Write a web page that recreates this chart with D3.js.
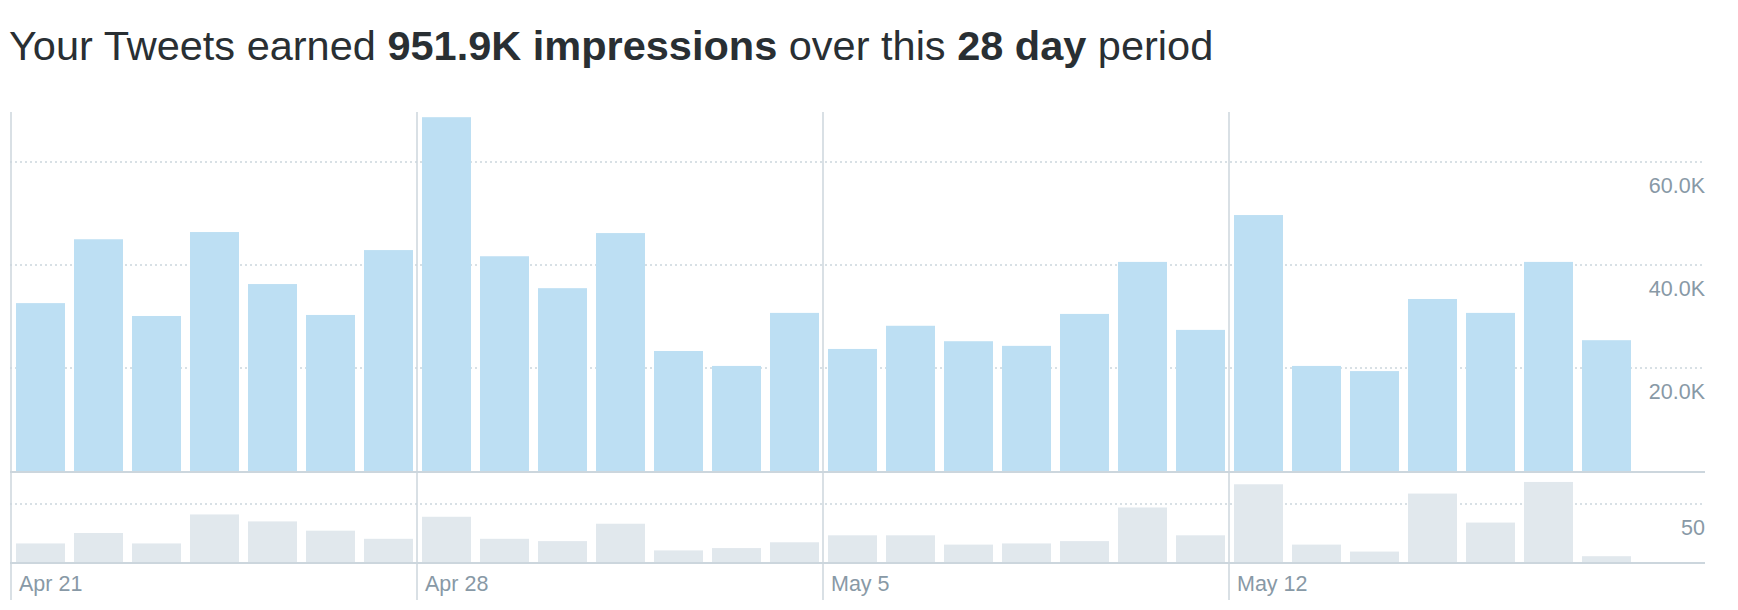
<!DOCTYPE html>
<html><head><meta charset="utf-8">
<script src="https://cdn.jsdelivr.net/npm/d3@7/dist/d3.min.js"></script>
<style>body{margin:0;background:#fff}svg{display:block}</style>
</head><body><svg id="c" width="1738" height="610"></svg>
<script>
const days = ["Apr 21","Apr 22","Apr 23","Apr 24","Apr 25","Apr 26","Apr 27","Apr 28","Apr 29","Apr 30","May 1","May 2","May 3","May 4","May 5","May 6","May 7","May 8","May 9","May 10","May 11","May 12","May 13","May 14","May 15","May 16","May 17","May 18"];
const impressions = [32.6,45.0,30.1,46.4,36.3,30.3,42.9,68.7,41.7,35.5,46.2,23.3,20.4,30.7,23.7,28.2,25.2,24.3,30.5,40.6,27.4,49.7,20.4,19.4,33.4,30.7,40.6,25.4].map(v=>v*1000);
const engagements = [16,25,16,41,35,27,20,39,20,18,33,10,12,17,23,23,15,16,18,47,23,67,15,9,59,34,69,5];
const impTicks = [20000,40000,60000];
const engTicks = [50];
const weekLabels = ["Apr 21","Apr 28","May 5","May 12"];

const svg = d3.select("#c");
const font = "'Liberation Sans', Arial, Helvetica, sans-serif";
const lineC = "#ccd6dd", textC = "#8899a6";

// title
const t = svg.append("text").attr("x",9).attr("y",60).attr("font-family",font).attr("font-size",41.5).attr("fill","#292f33");
[["Your Tweets earned ",400],["951.9K impressions",700],[" over this ",400],["28 day",700],[" period",400]]
  .forEach(([s,w])=>t.append("tspan").attr("font-weight",w).text(s));

const x = d3.scaleBand().domain(days).range([11.5,1635.5]).paddingInner(9/58).paddingOuter(4.5/58);
const yTop = d3.scaleLinear().domain([0,60000]).range([471,162]);
const yBot = d3.scaleLinear().domain([0,50]).range([562,504]);
const gridX0 = 10, gridX1 = 1705;

function grid(scale, ticks, fmt, dy){
  const g = svg.append("g");
  g.selectAll("line").data(ticks).join("line")
    .attr("x1",gridX0).attr("x2",gridX1).attr("y1",d=>scale(d)).attr("y2",d=>scale(d))
    .attr("stroke",lineC).attr("stroke-width",1.5).attr("stroke-dasharray","2,3");
  g.selectAll("text").data(ticks).join("text")
    .attr("x",gridX1).attr("y",d=>scale(d)+dy).attr("text-anchor","end")
    .attr("font-family",font).attr("font-size",21.5).attr("fill",textC).text(fmt);
}
grid(yTop, impTicks, d=>(d/1000).toFixed(1)+"K", 31);
grid(yBot, engTicks, d=>d, 31);

svg.append("g").selectAll("rect").data(impressions).join("rect")
  .attr("x",(d,i)=>x(days[i])).attr("width",x.bandwidth())
  .attr("y",d=>yTop(d)).attr("height",d=>yTop(0)-yTop(d)).attr("fill","#bddff3");
svg.append("g").selectAll("rect").data(engagements).join("rect")
  .attr("x",(d,i)=>x(days[i])).attr("width",x.bandwidth())
  .attr("y",d=>yBot(d)).attr("height",d=>yBot(0)-yBot(d)).attr("fill","#e1e8ed");

[yTop(0)+1, yBot(0)+1].forEach(y=>svg.append("line").attr("x1",gridX0).attr("x2",gridX1)
  .attr("y1",y).attr("y2",y).attr("stroke",lineC).attr("stroke-width",2));

const wk = svg.append("g");
weekLabels.forEach(w=>{
  const xx = x(w) - 5;
  wk.append("line").attr("x1",xx).attr("x2",xx).attr("y1",112).attr("y2",600)
    .attr("stroke",lineC).attr("stroke-width",1.5);
  wk.append("text").attr("x",xx+8).attr("y",591).attr("font-family",font).attr("font-size",21.5)
    .attr("fill",textC).text(w);
});
</script></body></html>
